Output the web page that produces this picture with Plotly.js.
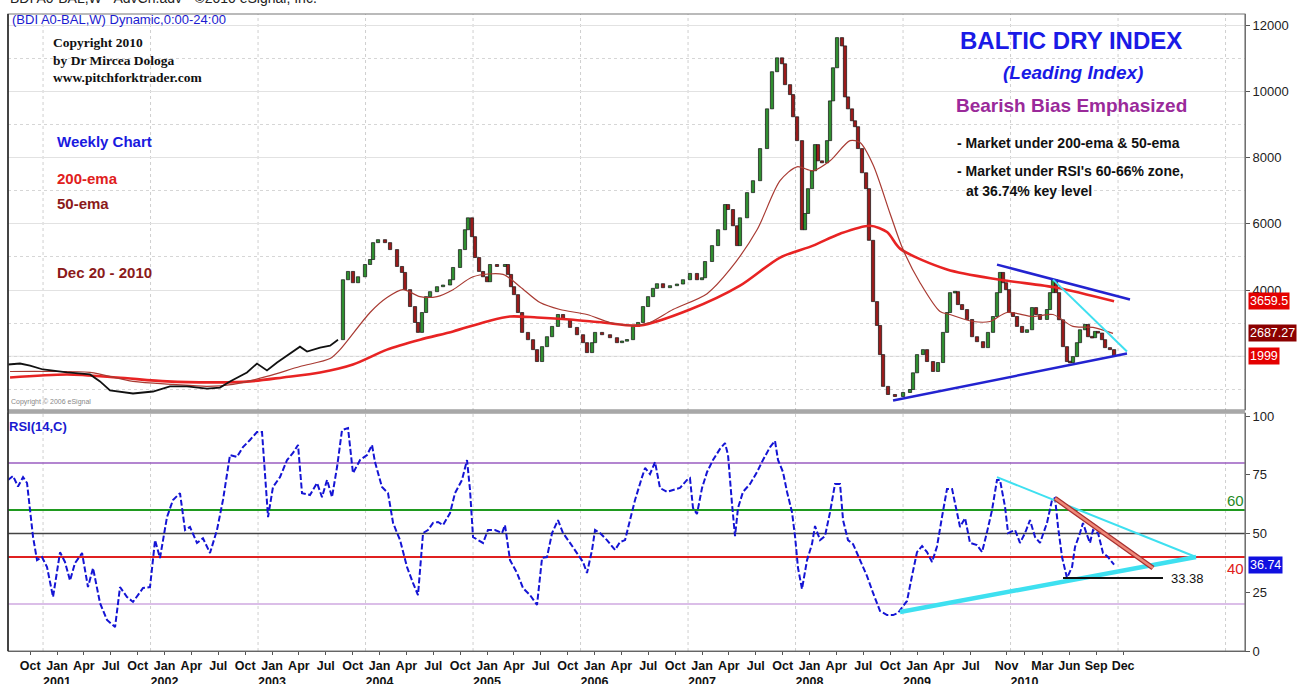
<!DOCTYPE html>
<html><head><meta charset="utf-8">
<script src="https://cdn.plot.ly/plotly-3.0.1.min.js"></script>
<style>html,body{margin:0;padding:0;background:#fff;}#chart{width:1301px;height:684px;}</style>
</head><body><div id="chart"></div>
<script>
// ---- DATA (decimal years) ----
const priceDate = [2000.544,2000.656,2000.749,2000.870,2001.093,2001.307,2001.400,2001.493,2001.707,2001.893,
2002.051,2002.209,2002.395,2002.516,2002.609,2002.767,2002.860,2002.953,2003.047,2003.167,2003.260,2003.326,2003.447,2003.540,2003.614,
2003.660,2003.707,2003.753,2003.800,2003.865,2003.912,2003.940,2003.986,2004.051,2004.098,2004.163,2004.209,2004.237,2004.284,2004.330,
2004.358,2004.395,2004.433,2004.470,2004.535,2004.591,2004.656,2004.684,2004.749,2004.795,2004.823,2004.860,2004.888,2004.926,2004.963,
2005.000,2005.028,2005.093,2005.167,2005.195,2005.223,2005.251,2005.288,2005.326,2005.381,2005.428,2005.465,2005.512,2005.558,2005.605,
2005.660,2005.707,2005.772,2005.837,2005.893,2005.930,2005.977,2006.005,2006.070,2006.144,2006.209,2006.256,2006.302,2006.358,2006.405,
2006.451,2006.498,2006.544,2006.581,2006.637,2006.702,2006.767,2006.823,2006.888,2006.953,2007.000,2007.028,2007.093,2007.149,2007.214,
2007.242,2007.288,2007.326,2007.353,2007.419,2007.474,2007.540,2007.605,2007.651,2007.698,2007.744,2007.772,2007.819,2007.847,2007.884,
2007.930,2007.958,2007.986,2008.023,2008.051,2008.079,2008.116,2008.163,2008.191,2008.219,2008.256,2008.302,2008.330,2008.358,2008.395,
2008.423,2008.451,2008.488,2008.526,2008.553,2008.591,2008.628,2008.656,2008.684,2008.730,2008.795,2008.870,2008.935,2008.963,2009.000,
2009.056,2009.093,2009.149,2009.195,2009.242,2009.279,2009.307,2009.353,2009.381,2009.419,2009.465,2009.512,2009.558,2009.614,2009.660,
2009.707,2009.744,2009.772,2009.800,2009.828,2009.856,2009.893,2009.930,2009.977,2010.023,2010.070,2010.107,2010.144,2010.209,2010.237,
2010.265,2010.293,2010.321,2010.358,2010.395,2010.423,2010.451,2010.488,2010.516,2010.563,2010.591,2010.628,2010.656,2010.684,2010.721,
2010.749,2010.795,2010.833];
const priceClose = [1750,1780,1720,1600,1510,1450,1240,970,875,935,
1090,1090,1025,1055,1240,1510,1780,1570,1810,2080,2290,2140,2260,2320,2500,
4310,4560,4220,4400,4770,4920,5430,5520,5430,5220,4710,4530,4010,3500,3020,
2720,3320,3800,3950,4100,4150,4310,4680,5220,5820,6180,5610,4980,4560,4400,
4250,4770,4710,4770,4470,4100,3860,3320,2720,2500,2200,1840,2290,2590,2900,
3260,3110,2870,2650,2410,2110,2410,2720,2650,2560,2410,2460,2500,2900,3020,
3500,3800,4050,4190,4070,4130,4180,4310,4500,4310,4370,4860,5340,5820,6580,
6430,5940,5340,6180,6940,7300,8270,9470,10590,11010,10830,10200,9900,9230,8510,
5820,6310,7060,7600,8390,7900,7840,8510,9710,10710,11620,11370,9830,9470,9110,
8930,8270,7540,7060,5500,3650,2930,2050,1090,845,785,905,995,1500,2050,
2200,1840,1540,1810,2720,3320,3920,3950,3560,3410,3110,2590,2440,2260,2720,
3200,3920,4530,4220,4010,3320,3200,2900,2720,2800,3470,3260,3110,3410,3920,
4310,3920,3100,2290,1840,1810,1990,2410,2800,2960,2590,2560,2750,2700,2500,
2260,2200,1999];
const candleStart = 2003.62; // before this the series is drawn as a plain black line

const ema200Date = [2000.563,2001.093,2001.558,2002.023,2002.488,2002.795,2003.102,2003.447,2003.753,2004.070,2004.377,2004.684,2005.000,2005.214,2005.465,2005.772,2006.079,2006.423,2006.888,2007.353,2007.726,2008.033,2008.284,2008.563,2008.721,2008.842,2009.279,2009.772,2010.302,2010.833];
const ema200 = [1360,1450,1360,1240,1210,1240,1360,1510,1750,2200,2500,2750,3050,3200,3170,3110,3020,2930,3410,4130,4980,5340,5700,5940,5750,5250,4620,4310,4070,3660];

const ema50Date = [2000.563,2000.935,2001.307,2001.707,2002.079,2002.395,2002.637,2002.953,2003.260,2003.540,2003.633,2003.912,2004.070,2004.219,2004.377,2004.535,2004.684,2004.870,2005.149,2005.307,2005.493,2005.679,2005.930,2006.144,2006.358,2006.516,2006.730,2007.047,2007.260,2007.512,2007.726,2007.884,2008.033,2008.191,2008.377,2008.470,2008.591,2008.749,2008.870,2009.028,2009.214,2009.307,2009.521,2009.679,2009.837,2010.079,2010.265,2010.451,2010.637,2010.823];
const ema50 = [1540,1540,1510,1240,1150,1090,1150,1390,1690,1930,2200,3320,3770,4010,3800,3800,4010,4400,4470,4100,3620,3410,3260,3020,2930,3020,3410,3890,4620,5820,7300,7720,7600,7900,8510,8450,7780,6310,5220,4220,3350,3260,3050,3050,3320,3200,3260,2900,2870,2690];

const rsiDate = [2000.544,2000.591,2000.637,2000.684,2000.721,2000.749,2000.777,2000.814,2000.860,2000.907,2000.963,2001.028,2001.074,2001.121,2001.167,2001.233,2001.288,2001.335,2001.400,2001.465,
2001.540,2001.586,2001.651,2001.707,2001.800,2001.865,2001.912,2001.958,2002.023,2002.079,2002.144,2002.191,2002.237,2002.302,2002.358,2002.423,2002.488,2002.544,2002.609,2002.674,
2002.730,2002.795,2002.860,2002.907,2002.935,2002.963,2003.009,2003.074,2003.140,2003.195,2003.242,2003.279,2003.353,2003.419,2003.465,2003.512,2003.558,2003.605,2003.651,2003.707,
2003.753,2003.819,2003.884,2003.930,2003.958,2004.023,2004.079,2004.126,2004.191,2004.256,2004.312,2004.358,2004.405,2004.451,2004.498,2004.544,2004.591,2004.656,2004.702,2004.767,
2004.814,2004.842,2004.870,2004.916,2004.963,2005.009,2005.074,2005.140,2005.167,2005.214,2005.279,2005.335,2005.400,2005.465,2005.512,2005.558,2005.605,2005.660,2005.707,2005.772,
2005.837,2005.893,2005.930,2005.977,2006.005,2006.051,2006.116,2006.191,2006.237,2006.284,2006.330,2006.377,2006.442,2006.470,2006.516,2006.563,2006.609,2006.674,2006.730,2006.795,
2006.860,2006.888,2006.916,2006.953,2007.000,2007.047,2007.102,2007.167,2007.214,2007.242,2007.279,2007.307,2007.335,2007.381,2007.447,2007.512,2007.567,2007.633,2007.679,2007.707,
2007.753,2007.791,2007.837,2007.865,2007.893,2007.930,2007.977,2008.023,2008.051,2008.098,2008.144,2008.191,2008.237,2008.284,2008.312,2008.358,2008.405,2008.470,2008.535,2008.591,
2008.656,2008.721,2008.777,2008.823,2008.907,2008.953,2009.000,2009.047,2009.093,2009.140,2009.186,2009.233,2009.279,2009.326,2009.353,2009.400,2009.447,2009.493,2009.558,2009.605,
2009.651,2009.698,2009.744,2009.772,2009.819,2009.847,2009.912,2009.958,2010.005,2010.051,2010.098,2010.144,2010.209,2010.256,2010.284,2010.312,2010.349,2010.395,2010.442,2010.470,
2010.516,2010.544,2010.581,2010.609,2010.637,2010.684,2010.730,2010.777,2010.833];
const rsi = [72.8,74.5,70,74,71.5,60,48.5,38.7,40,35.7,23,42,37.9,30,37.4,41.7,27.2,35.3,20.4,13.2,
10.2,27.2,23,20.9,26.8,27.2,47.2,39.6,57,64.3,67.2,51.5,52.8,46,48,41.7,51.5,64.3,83.4,82.6,
86.8,89.8,93.2,93.2,75.7,57,69.8,74,81.3,84.3,87.7,67.2,66.4,71.5,65.5,72.8,65.5,78.3,94,94.9,
75.7,81.3,83.4,87.7,80.4,69.8,67.2,54.5,47.2,35.7,28.9,23.8,50.2,51.5,54.5,54.9,53.6,58.7,67.2,72.8,
81.3,68.5,48.5,47.2,46,51.5,51.5,50.2,53.6,38.7,33.2,26.8,23.8,19.6,39.6,40,50.2,55.7,50.2,46,
41.7,37.9,33.2,43,51.5,50.2,47.2,43,46.4,47.2,55.7,64.3,74,77.9,75.3,80.4,69.4,67.7,68.5,69.4,
72.8,73.6,60.9,58.3,69.4,76.2,81.3,86,88.5,83.4,62.6,48.9,60.9,67.7,71.1,76.2,81.3,86.8,89.4,81.3,
76.2,67.7,59.1,48.9,35.3,26.4,38.7,45.5,53.2,47.2,48.9,59.1,71.1,71.1,55.7,47.2,45.5,38.7,31.9,24.7,
17,15.3,15.3,16.2,21.3,31.9,42.1,44.7,42.1,37.9,44.5,57.2,69,69,63,52.8,56.6,46,45.1,42.1,
50.6,60,72.8,72.8,61.3,50.2,51.5,46,50.2,55.7,48.5,46,54.5,64.3,65.1,52.8,40,31.1,35.7,44.3,
50.2,54.5,49.4,46,51.5,50.2,41.7,40,36.74];

const rsiLevels = [80, 60, 50, 40, 20];
const rsiLevelColors = ['#9a5cc0', '#1f9a1f', '#444444', '#e02020', '#cfa8e0'];

// author's trend lines
const priceSupportX = [2008.777, 2010.953], priceSupportY = [664, 2082];
const priceResistX = [2009.744, 2010.981], priceResistY = [4767, 3711];
const priceCyanX = [2010.265, 2010.953], priceCyanY = [4314, 2142];
const rsiUpperX = [2009.744, 2011.595], rsiUpperY = [74, 40];
const rsiLowerX = [2008.842, 2011.595], rsiLowerY = [16.6, 40];
const rsiRedX = [2010.284, 2011.195], rsiRedY = [65, 35.3];
const rsiSupportX = [2010.358, 2011.288], rsiSupportY = [31.1, 31.1];

const lastValues = ['3659.5', '2687.27', '1999'];
const lastValueLevels = [3659.5, 2687.27, 1999];
const lastRsi = '36.74';

const xTickVals = [2000.75,
 2001,2001.25,2001.5,2001.75, 2002,2002.25,2002.5,2002.75, 2003,2003.25,2003.5,2003.75,
 2004,2004.25,2004.5,2004.75, 2005,2005.25,2005.5,2005.75, 2006,2006.25,2006.5,2006.75,
 2007,2007.25,2007.5,2007.75, 2008,2008.25,2008.5,2008.75, 2009,2009.25,2009.5,2009.833,
 2010,2010.167,2010.417,2010.667,2010.917];
const xTickText = ['Oct',
 'Jan<br>2001','Apr','Jul','Oct', 'Jan<br>2002','Apr','Jul','Oct', 'Jan<br>2003','Apr','Jul','Oct',
 'Jan<br>2004','Apr','Jul','Oct', 'Jan<br>2005','Apr','Jul','Oct', 'Jan<br>2006','Apr','Jul','Oct',
 'Jan<br>2007','Apr','Jul','Oct', 'Jan<br>2008','Apr','Jul','Oct', 'Jan<br>2009','Apr','Jul','Nov',
 ' <br>2010','Mar','Jun','Sep','Dec'];
const priceTicks = [4000,6000,8000,10000,12000];
const priceTickText = ['4000','6000','8000','10000','12000'];
const rsiTicks = [0,25,50,75,100];

// ---- BUILD ----
const SANS = '"Liberation Sans", Arial, sans-serif';
const SERIF = '"Liberation Serif", "Times New Roman", serif';
const L = 8, R = 1245, T = 14, B = 651;
const px = x => (x - L) / (R - L);
const py = y => (B - y) / (B - T);
const priceDom = [py(410), 1], rsiDom = [0, py(413)];

const lineX = [], lineY = [];
const cx = [], cb = [], ch = [], cc = [];
let prev = null;
for (let i = 0; i < priceDate.length; i++) {
  const c = priceClose[i];
  if (priceDate[i] < candleStart) { lineX.push(priceDate[i]); lineY.push(c); prev = c; continue; }
  const o = prev;
  let lo = Math.min(o, c), h = Math.abs(c - o);
  if (h < 50) { lo -= (50 - h) / 2; h = 50; }
  cx.push(priceDate[i]); cb.push(lo); ch.push(h);
  cc.push(c >= o ? '#2f8f2f' : '#9a1a1a');
  prev = c;
}

const traces = [
  {type:'scatter', mode:'lines', x:ema200Date, y:ema200, xaxis:'x2', yaxis:'y2', line:{color:'#e82323', width:2.6, shape:'spline', smoothing:0.8}},
  {type:'scatter', mode:'lines', x:ema50Date, y:ema50, xaxis:'x2', yaxis:'y2', line:{color:'#a83a32', width:1.2, shape:'spline', smoothing:0.8}},
  {type:'scatter', mode:'lines', x:lineX, y:lineY, xaxis:'x2', yaxis:'y2', line:{color:'#111', width:1.8}},
  {type:'bar', x:cx, y:ch, base:cb, width:0.03, xaxis:'x2', yaxis:'y2', marker:{color:cc, line:{color:'#111', width:0.7}}},
  {type:'scatter', mode:'lines', x:priceSupportX, y:priceSupportY, xaxis:'x2', yaxis:'y2', line:{color:'#2323d0', width:2.5}},
  {type:'scatter', mode:'lines', x:priceResistX, y:priceResistY, xaxis:'x2', yaxis:'y2', line:{color:'#2323d0', width:2.5}},
  {type:'scatter', mode:'lines', x:priceCyanX, y:priceCyanY, xaxis:'x2', yaxis:'y2', line:{color:'#3ee0f0', width:2}},
  {type:'scatter', mode:'lines', x:rsiDate, y:rsi, xaxis:'x', yaxis:'y', line:{color:'#1414d4', width:2, dash:'6px,2.5px'}},
  {type:'scatter', mode:'lines', x:rsiUpperX, y:rsiUpperY, xaxis:'x', yaxis:'y', line:{color:'#3ee0f0', width:2}},
  {type:'scatter', mode:'lines', x:rsiLowerX, y:rsiLowerY, xaxis:'x', yaxis:'y', line:{color:'#3ee0f0', width:4.5}},
  {type:'scatter', mode:'lines', x:rsiRedX, y:rsiRedY, xaxis:'x', yaxis:'y', line:{color:'#a83030', width:5}},
  {type:'scatter', mode:'lines', x:rsiRedX, y:rsiRedY, xaxis:'x', yaxis:'y', line:{color:'#f08878', width:2.5}},
  {type:'scatter', mode:'lines', x:rsiSupportX, y:rsiSupportY, xaxis:'x', yaxis:'y', line:{color:'#111', width:2}}
];

const shapes = [];
for (let k = 0; k < 12; k++) {
  shapes.push({type:'line', xref:'x', yref:'paper', x0:2000.87+k, x1:2000.87+k, y0:0, y1:1, line:{color:'#cfcfcf', width:1, dash:'dot'}, layer:'below'});
}
rsiLevels.forEach((v, i) => shapes.push({type:'line', xref:'paper', yref:'y', x0:0, x1:1, y0:v, y1:v,
  line:{color:rsiLevelColors[i], width:(v===60||v===40)?2:1.4}, layer:'below'}));
shapes.push({type:'line', xref:'paper', yref:'y2', x0:0, x1:1, y0:2000, y1:2000, line:{color:'#e2e2e2', width:1}, layer:'below'});
shapes.push({type:'rect', xref:'paper', yref:'paper', x0:0, x1:1, y0:priceDom[0], y1:1, line:{color:'#777', width:1.2}});
shapes.push({type:'rect', xref:'paper', yref:'paper', x0:0, x1:1, y0:0, y1:rsiDom[1], line:{color:'#777', width:1.2}});
shapes.push({type:'rect', xref:'paper', yref:'paper', x0:0, x1:1, y0:rsiDom[1], y1:priceDom[0], line:{width:0}, fillcolor:'#a8a8a8'});
shapes.push({type:'line', xref:'paper', yref:'paper', x0:0, x1:0, y0:0, y1:1, line:{color:'#222', width:1.5}});

const A = (x, y, text, font, extra) => Object.assign({xref:'paper', yref:'paper', x:px(x), y:py(y), text, showarrow:false,
  xanchor:'left', yanchor:'middle', font}, extra || {});
const annotations = [
  A(8, -2, 'BDI A0-BAL,W - AdvCh.adv - ©2010 eSignal, Inc.', {family:SANS, size:14, color:'#222'}),
  A(10, 19, '(BDI A0-BAL,W) Dynamic,0:00-24:00', {family:SANS, size:13, color:'#1a1ad0'}),
  A(51, 33, 'Copyright 2010<br>by Dr Mircea Dologa<br>www.pitchforktrader.com', {family:SERIF, size:13.5, color:'#111', weight:'bold'}, {yanchor:'top', align:'left'}),
  A(55, 141, 'Weekly Chart', {family:SANS, size:15, color:'#1a1ae0', weight:'bold'}),
  A(55, 178, '200-ema', {family:SANS, size:15, color:'#e02020', weight:'bold'}),
  A(55, 204, '50-ema', {family:SANS, size:15, color:'#8b1a1a', weight:'bold'}),
  A(55, 272, 'Dec 20 - 2010', {family:SANS, size:15, color:'#8b1a1a', weight:'bold'}),
  A(1071, 40, 'BALTIC DRY INDEX', {family:SANS, size:24, color:'#1a1ae6', weight:'bold'}, {xanchor:'center'}),
  A(1073, 72, '<i>(Leading Index)</i>', {family:SANS, size:19, color:'#1a1ae6', weight:'bold'}, {xanchor:'center'}),
  A(954, 106, 'Bearish Bias Emphasized', {family:SANS, size:19, color:'#9a2a9a', weight:'bold'}),
  A(955, 143, '- Market under 200-ema & 50-ema', {family:SANS, size:14, color:'#111', weight:'bold'}),
  A(955, 171, "- Market under RSI's 60-66% zone,", {family:SANS, size:14, color:'#111', weight:'bold'}),
  A(964, 191, 'at 36.74% key level', {family:SANS, size:14, color:'#111', weight:'bold'}),
  A(9, 402, 'Copyright © 2006 eSignal', {family:SANS, size:7, color:'#888'}),
  A(7, 427, 'RSI(14,C)', {family:SANS, size:13, color:'#1a1ad0', weight:'bold'}),
  A(1235, 500, '60', {family:SANS, size:15, color:'#1f8a1f'}, {xanchor:'center'}),
  A(1235, 568, '40', {family:SANS, size:15, color:'#e02020'}, {xanchor:'center'}),
  A(1169, 578, '33.38', {family:SANS, size:13, color:'#111'})
];
const boxColors = ['#e40000', '#8b0000', '#e40000'];
lastValues.forEach((t, i) => annotations.push({xref:'paper', yref:'y2', x:1, xshift:3, y:lastValueLevels[i], text:t, showarrow:false,
  xanchor:'left', yanchor:'middle', bgcolor:boxColors[i], borderpad:1, font:{family:SANS, size:12.5, color:'#fff'}}));
annotations.push({xref:'paper', yref:'y', x:1, xshift:3, y:rsi[rsi.length-1], text:lastRsi, showarrow:false,
  xanchor:'left', yanchor:'middle', bgcolor:'#1010e0', borderpad:1, font:{family:SANS, size:12.5, color:'#fff'}});

const layout = {
  width:1301, height:684, margin:{l:L, r:1301-R, t:T, b:684-B},
  paper_bgcolor:'#fff', plot_bgcolor:'#fff', showlegend:false, hovermode:false, barmode:'overlay',
  xaxis:{domain:[0,1], anchor:'y', range:[2000.544, 2012.051], tickmode:'array', tickvals:xTickVals, ticktext:xTickText,
    tickangle:0, ticks:'outside', ticklen:3, tickcolor:'#555', showgrid:false, zeroline:false, showline:true, linecolor:'#555',
    tickfont:{family:SANS, size:12.5, color:'#111', weight:'bold'}},
  xaxis2:{domain:[0,1], anchor:'y2', matches:'x', showticklabels:false, ticks:'', showgrid:false, zeroline:false},
  yaxis:{domain:rsiDom, anchor:'x', side:'right', range:[0, 101.3], tickmode:'array', tickvals:rsiTicks,
    ticks:'outside', ticklen:4, tickcolor:'#555', showgrid:false, zeroline:false, showline:true, linecolor:'#666',
    tickfont:{family:SANS, size:13, color:'#222'}},
  yaxis2:{domain:priceDom, anchor:'x2', side:'right', range:[377, 12333], tickmode:'array', tickvals:priceTicks, ticktext:priceTickText,
    ticks:'outside', ticklen:4, tickcolor:'#555', showgrid:true, gridcolor:'#e2e2e2', gridwidth:1, zeroline:false,
    showline:true, linecolor:'#666', tickfont:{family:SANS, size:13, color:'#222'},
    minor:{dtick:1000, tick0:0, showgrid:true, gridcolor:'#d6d6d6', griddash:'dot', ticks:''}},
  shapes, annotations
};
Plotly.newPlot('chart', traces, layout, {staticPlot:true, displayModeBar:false});
</script></body></html>
